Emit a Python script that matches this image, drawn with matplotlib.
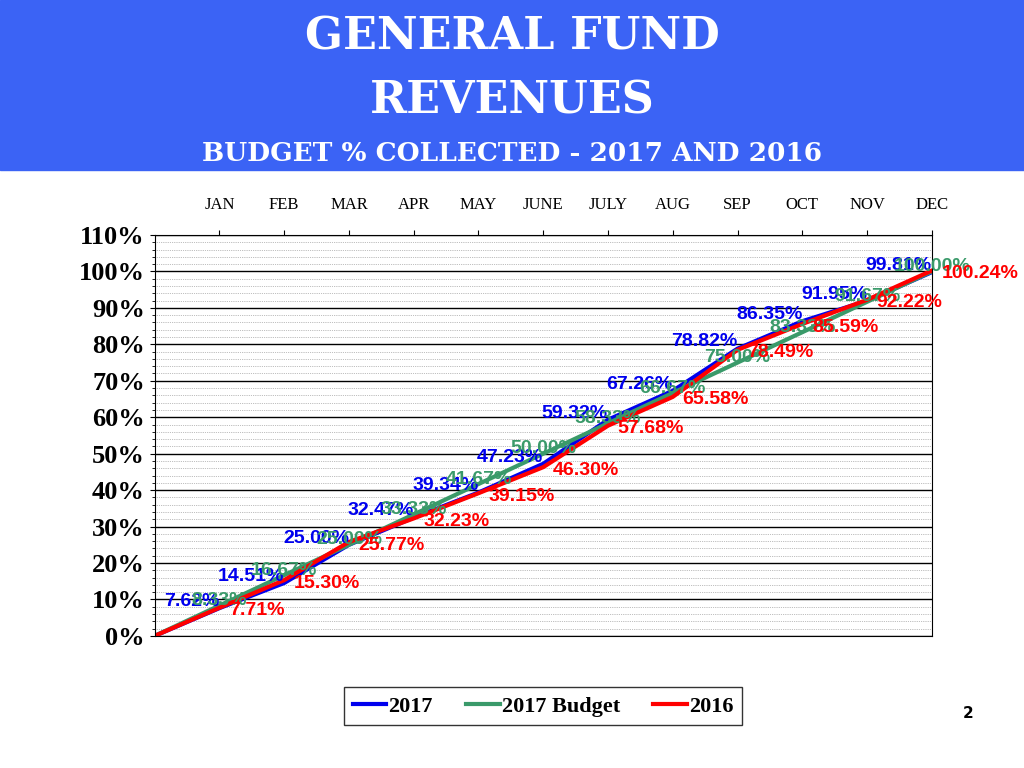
import matplotlib.pyplot as plt
from matplotlib.patches import Rectangle

months = ["JAN", "FEB", "MAR", "APR", "MAY", "JUNE", "JULY", "AUG", "SEP", "OCT", "NOV", "DEC"]
actual_2017 = [7.62, 14.51, 25.00, 32.47, 39.34, 47.23, 59.32, 67.26, 78.82, 86.35, 91.95, 99.81]
budget_2017 = [8.33, 16.67, 25.00, 33.33, 41.67, 50.00, 58.33, 66.67, 75.00, 83.33, 91.67, 100.00]
actual_2016 = [7.71, 15.30, 25.77, 32.23, 39.15, 46.30, 57.68, 65.58, 78.49, 85.59, 92.22, 100.24]

blue, green, red = "#0000ee", "#3a9a6a", "#ff0000"

fig = plt.figure(figsize=(10.24, 7.68), dpi=100)
fig.patches.append(Rectangle((0, 0.779), 1, 0.221, transform=fig.transFigure, color="#3b63f5", zorder=0))
fig.text(0.5, 0.952, "GENERAL FUND", ha="center", va="center", fontsize=32, color="white",
         family="DejaVu Serif", fontweight="bold")
fig.text(0.5, 0.868, "REVENUES", ha="center", va="center", fontsize=32, color="white",
         family="DejaVu Serif", fontweight="bold")
fig.text(0.5, 0.8, "BUDGET % COLLECTED - 2017 AND 2016", ha="center", va="center", fontsize=19,
         color="white", family="DejaVu Serif", fontweight="bold")
fig.text(0.94, 0.065, "2", fontsize=11, fontweight="bold")

ax = fig.add_axes([0.151, 0.172, 0.759, 0.522])
x = list(range(0, 13))
ax.plot(x, [0] + actual_2017, color=blue, lw=3, label="2017")
ax.plot(x, [0] + budget_2017, color=green, lw=3, label="2017 Budget")
ax.plot(x, [0] + actual_2016, color=red, lw=3, label="2016")

lab = dict(fontsize=14, fontweight="bold", family="Liberation Sans")
for i in range(12):
    ax.text(i + 1, actual_2017[i] - 0.5, f"{actual_2017[i]:.2f}%", color=blue, ha="right", va="bottom", **lab)
    ax.text(i + 1, budget_2017[i] - 1, f"{budget_2017[i]:.2f}%", color=green, ha="center", va="bottom", **lab)
    ax.text(i + 1.15, actual_2016[i] + 1.5, f"{actual_2016[i]:.2f}%", color=red, ha="left", va="top", **lab)

ax.set_xlim(0, 12)
ax.set_ylim(0, 110)
ax.set_yticks(range(0, 111, 10))
ax.set_yticklabels([f"{v}%" for v in range(0, 111, 10)], fontsize=19, fontweight="bold", family="Liberation Serif")
ax.set_yticks(range(0, 111, 2), minor=True)
ax.grid(True, which="major", axis="y", color="black", lw=1)
ax.grid(True, which="minor", axis="y", color="gray", lw=0.5, ls=":")
ax.xaxis.tick_top()
ax.set_xticks(range(1, 13))
ax.set_xticklabels(months, fontsize=12, family="Liberation Serif")
ax.tick_params(axis="x", pad=12)

ax.legend(loc="upper center", bbox_to_anchor=(0.5, -0.1), ncol=3, frameon=True, fancybox=False,
          edgecolor="black", prop={"family": "Liberation Serif", "weight": "bold", "size": 16},
          handlelength=1.5, columnspacing=1.5, handletextpad=0.1)

fig.savefig("out.png")
